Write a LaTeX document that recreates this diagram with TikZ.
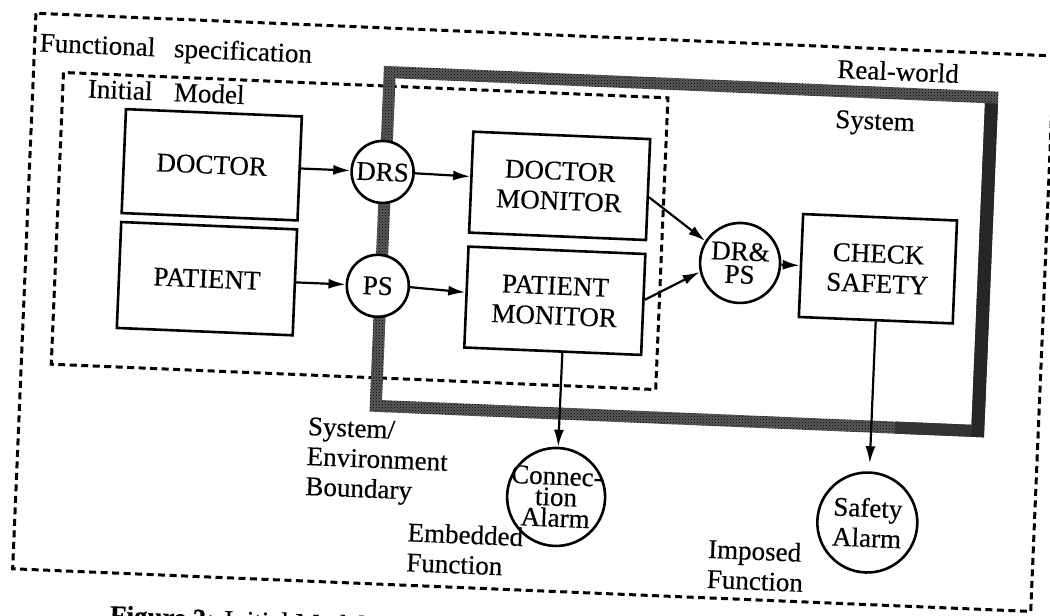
\documentclass[tikz,border=0pt]{standalone}
\usepackage{fontspec}
\setmainfont{Liberation Serif}[FakeBold=0.4]
\usetikzlibrary{arrows.meta,patterns,calc}

\begin{document}
\begin{tikzpicture}[x=1pt,y=-1pt,
  every node/.style={font=\fontsize{27}{30}\selectfont},
  block/.style={draw, line width=2.6pt, inner sep=0pt, align=center},
  store/.style={circle, draw, line width=2.6pt, inner sep=0pt, fill=white, align=center},
  flow/.style={line width=2.2pt, -{Latex[length=17pt,width=10pt]}},
  frame/.style={line width=3pt, dash pattern=on 7pt off 4.5pt},
  lbl/.style={anchor=base west, align=left, inner sep=0pt}]

\useasboundingbox (0,0) rectangle (1050,616);

\begin{scope}[rotate around={-2.4:(525,308)}, transform shape]

  % functional specification frame
  \draw[frame] (24,34) rectangle (1043,590);
  \node[lbl] (fs) at (29,72) {Functional\hspace{0.7em}specification};

  % initial model frame
  \draw[frame] (54,92) rectangle (659,384);
  \node[lbl] (im) at (79,116) {Initial\hspace{0.8em}Model};

  % real-world system boundary (hatched band)
  \fill[black!65, even odd rule] (374,72) rectangle (989,418) (386,84) rectangle (976,406);
  \fill[pattern=crosshatch dots, even odd rule] (374,72) rectangle (989,418) (386,84) rectangle (976,406);
  \fill[black!85] (976,84) rectangle (989,418);
  \fill[black!80] (900,406) rectangle (976,418);
  \node[lbl] (rw) at (827,65) {Real-world};
  \node[lbl] (sys) at (827,115) {System};

  % processes and data stores
  \node[block, minimum width=176pt, minimum height=104pt] (doctor) at (206,178) {DOCTOR};
  \node[block, minimum width=176pt, minimum height=106pt] (patient) at (206,292) {PATIENT};
  \node[store, minimum size=62pt] (drs) at (377,178) {DRS};
  \node[store, minimum size=62pt] (ps) at (377,292) {PS};
  \node[block, minimum width=177pt, minimum height=101pt] (dm) at (554.5,184.5) {DOCTOR\\MONITOR};
  \node[block, minimum width=177pt, minimum height=101pt] (pm) at (554.5,299.5) {PATIENT\\MONITOR};
  \node[store, minimum size=80pt, font=\fontsize{27}{23}\selectfont] (drps) at (738,254) {DR\&\\PS};
  \node[block, minimum width=154pt, minimum height=103pt] (cs) at (876,254) {CHECK\\SAFETY};
  \node[store, minimum size=100pt] (sa) at (876,508) {Safety\\Alarm};
  \node[store, minimum size=98pt,
        label={[name=catext, align=center, inner sep=0pt, font=\fontsize{27}{21}\selectfont]center:Connec-\\tion\\Alarm}] (ca) at (564,495.5) {};

  % outside labels (anchored at the baseline of their last line)
  \node[lbl] (seb) at (313,504) {System/\\Environment\\Boundary};
  \node[lbl] (emb) at (417,576) {Embedded\\Function};
  \node[lbl] (imp) at (718,580) {Imposed\\Function};

  % data flows
  \draw[flow] (doctor.east) -- (drs.west);
  \draw[flow] (patient.east) -- (ps.west);
  \draw[flow] (drs.east) -- ($(dm.north west)!0.446!(dm.south west)$);
  \draw[flow] (ps.east) -- ($(pm.north west)!0.455!(pm.south west)$);
  \draw[flow] ($(dm.north east)!0.574!(dm.south east)$) -- (drps.150);
  \draw[flow] ($(pm.north east)!0.455!(pm.south east)$) -- (drps.195);
  \draw[flow] (drps.east) -- (cs.west);
  \draw[flow, shorten >=8pt] (cs.south) -- (sa.north);
  \draw[flow] ($(pm.south west)!0.554!(pm.south east)$) -- (ca.north);

  % caption
  \node[anchor=base west, inner sep=0pt] (caption) at (123,641) {\textbf{Figure 3:} Initial Model and S};
\end{scope}
\end{tikzpicture}
\end{document}
